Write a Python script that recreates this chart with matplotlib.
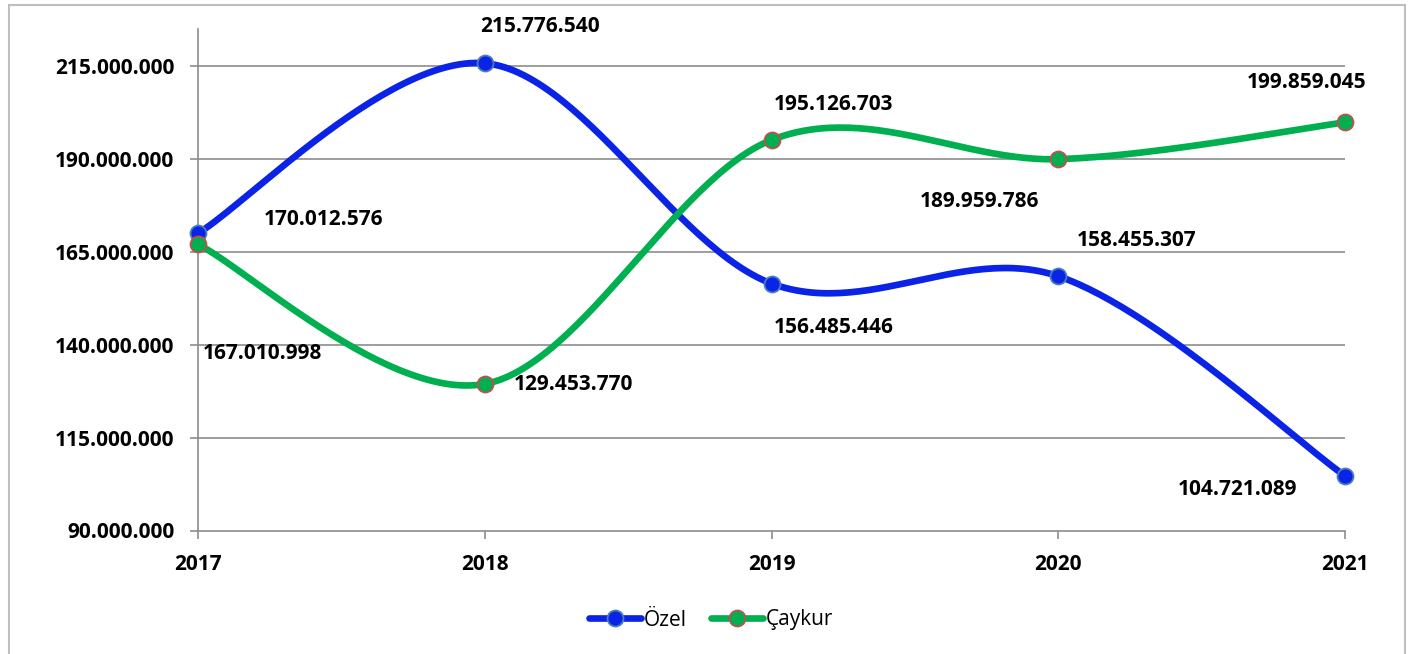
import numpy as np
import matplotlib.pyplot as plt
from matplotlib.patches import Rectangle
from matplotlib.lines import Line2D

years = ['2017', '2018', '2019', '2020', '2021']
ozel = [170012576, 215776540, 156485446, 158455307, 104721089]
caykur = [167010998, 129453770, 195126703, 189959786, 199859045]
# label offsets in pixels (dx, dy) for each point
ozel_offsets = [(126, 14), (55, 37), (62, -44), (78, 36), (-107, -14)]
caykur_offsets = [(64, -109), (89, -1), (62, 35), (-79, -42), (-38, 40)]

plt.rcParams['font.family'] = ['Open Sans', 'DejaVu Sans']


def fmt(v):
    return f"{v:,.0f}".replace(',', '.')


def smooth(ax, xs, ys, n=60):
    # Excel-style smoothing: Catmull-Rom Bezier in pixel space
    pts = ax.transData.transform(np.column_stack([xs, ys]))
    out = []
    m = len(pts)
    for i in range(m - 1):
        p0 = pts[i - 1] if i > 0 else pts[i]
        p1 = pts[i]
        p2 = pts[i + 1]
        p3 = pts[i + 2] if i + 2 < m else pts[i + 1]
        c1 = p1 + (p2 - p0) / 6
        c2 = p2 - (p3 - p1) / 6
        t = np.linspace(0, 1, n)[:, None]
        seg = ((1 - t) ** 3) * p1 + 3 * ((1 - t) ** 2) * t * c1 + 3 * (1 - t) * t ** 2 * c2 + t ** 3 * p2
        out.append(seg if i == 0 else seg[1:])
    out = np.vstack(out)
    data = ax.transData.inverted().transform(out)
    return data[:, 0], data[:, 1]


fig = plt.figure(figsize=(14.08, 6.54), dpi=100)
ax = fig.add_axes([198 / 1408, 1 - 530.5 / 654, (1345 - 198) / 1408, (530.5 - 29) / 654])

x = np.arange(len(years))
ax.set_xlim(0, len(years) - 1)
ax.set_ylim(90e6, 225e6)

grid_c = '#8c8c8c'
yt = np.arange(90e6, 216e6, 25e6)
ax.set_yticks(yt)
ax.set_yticklabels([fmt(v) for v in yt])
ax.set_xticks(x)
ax.set_xticklabels(years)
for v in yt[1:]:
    ax.axhline(v, color=grid_c, lw=1.2, zorder=1)

for s in ['top', 'right']:
    ax.spines[s].set_visible(False)
for s in ['left', 'bottom']:
    ax.spines[s].set_color(grid_c)
    ax.spines[s].set_linewidth(1.2)
ax.tick_params(axis='both', color=grid_c, width=1.2, length=6, pad=11,
               labelsize=15)
for lab in ax.get_xticklabels() + ax.get_yticklabels():
    lab.set_fontweight('bold')

blue = '#0A23E6'
green = '#00B050'
series = [
    (ozel, blue, '#4A7EBB', 'Özel', ozel_offsets),
    (caykur, green, '#C0504D', 'Çaykur', caykur_offsets),
]
for vals, col, edge, name, offs in series:
    sx, sy = smooth(ax, x, vals)
    ax.plot(sx, sy, color=col, lw=4.8, solid_capstyle='round', zorder=3, clip_on=False)
    ax.plot(x, vals, 'o', ms=11.5, mfc=col, mec=edge, mew=1.3, zorder=4, clip_on=False)
    for xi, v, (dx, dy) in zip(x, vals, offs):
        ax.annotate(fmt(v), (xi, v), xytext=(dx, dy), textcoords='offset pixels',
                    ha='center', va='center', fontsize=15, fontweight='bold',
                    annotation_clip=False, zorder=5)

handles = [Line2D([], [], color=c, lw=4.8, marker='o', ms=11.5, mfc=c, mec=e, mew=1.3,
                  solid_capstyle='round')
           for _, c, e, _, _ in series]
fig.legend(handles, [s[3] for s in series], loc='center', bbox_to_anchor=(0.505, 1 - 620 / 654),
           ncol=2, frameon=False, fontsize=15, handlelength=2.5, handletextpad=0.1,
           columnspacing=1.2)

fig.patches.append(Rectangle((9 / 1408, -0.05), (1405 - 9) / 1408, 1.05 - 5 / 654,
                             transform=fig.transFigure, fill=False, edgecolor='#BFBFBF', lw=1.5))

plt.savefig('out.png', dpi=100)
